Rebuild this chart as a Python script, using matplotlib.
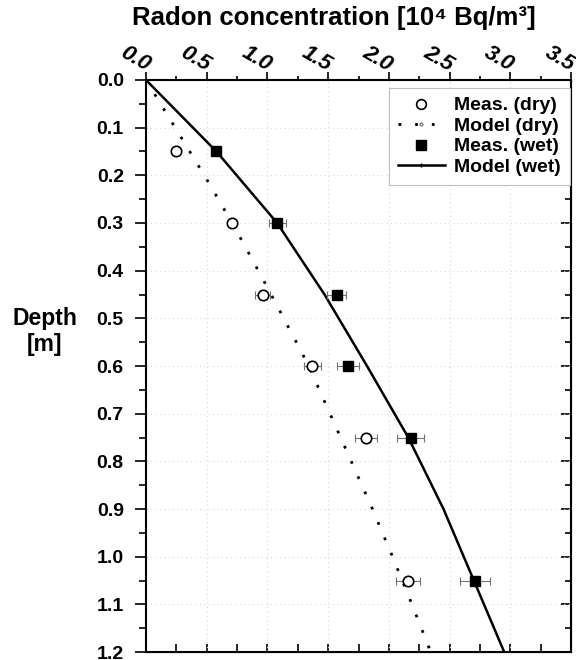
import matplotlib
matplotlib.use("Agg")
import matplotlib.pyplot as plt
from matplotlib.lines import Line2D
from matplotlib.ticker import MultipleLocator

plt.rcParams['font.family'] = ['Liberation Sans', 'DejaVu Sans']
plt.rcParams['font.weight'] = 'bold'

# measured points
depth_meas = [0.15, 0.30, 0.45, 0.60, 0.75, 1.05]
dry_meas = [0.25, 0.71, 0.96, 1.37, 1.81, 2.16]
dry_err = [0.0, 0.03, 0.06, 0.07, 0.09, 0.10]
wet_meas = [0.58, 1.08, 1.57, 1.66, 2.18, 2.71]
wet_err = [0.0, 0.07, 0.08, 0.09, 0.11, 0.12]

# model curves
depth_dry_model = [0.0, 0.1, 0.2, 0.3, 0.4, 0.5, 0.6, 0.7, 0.8, 0.9, 1.0, 1.1, 1.2]
dry_model = [0.0, 0.24, 0.48, 0.71, 0.925, 1.135, 1.34, 1.515, 1.69, 1.865, 2.03, 2.19, 2.345]
depth_wet_model = [0.0, 0.15, 0.30, 0.45, 0.60, 0.75, 0.90, 1.05, 1.20]
wet_model = [0.0, 0.58, 1.08, 1.47, 1.82, 2.16, 2.45, 2.70, 2.95]

x_ticks = [0.0, 0.5, 1.0, 1.5, 2.0, 2.5, 3.0, 3.5]

fig = plt.figure(figsize=(5.76, 6.6), dpi=100)
ax = fig.add_axes([0.2535, 0.0121, 0.7378, 0.8667])

ax.plot(dry_model, depth_dry_model, color='black', lw=2, linestyle=(0, (1, 5)))
ax.plot(wet_model, depth_wet_model, color='black', lw=1.8)

ax.errorbar(dry_meas, depth_meas, xerr=dry_err, fmt='none', ecolor='0.45',
            elinewidth=0.8, capsize=3, capthick=0.8)
ax.errorbar(wet_meas, depth_meas, xerr=wet_err, fmt='none', ecolor='0.45',
            elinewidth=0.8, capsize=3, capthick=0.8)
ax.plot(dry_meas, depth_meas, 'o', mfc='white', mec='black', mew=1.2, ms=7.5)
ax.plot(wet_meas, depth_meas, 's', color='black', ms=7.5)

ax.set_xlim(0, 3.5)
ax.set_ylim(1.2, 0)

ax.grid(True, which='major', color='0.85', lw=0.8, linestyle=(0, (1, 3)))

# top axis: ticks out, slanted italic labels drawn by hand
ax.xaxis.tick_top()
ax.set_xticks(x_ticks)
ax.xaxis.set_minor_locator(MultipleLocator(0.25))
ax.tick_params(axis='x', which='major', direction='out', length=6, width=1.2,
               labeltop=False)
ax.tick_params(axis='x', which='minor', direction='out', length=3, width=1.2)
for v in x_ticks:
    ax.annotate(f'{v:.1f}', xy=(v, 1.0), xycoords=('data', 'axes fraction'),
                xytext=(-8, 15), textcoords='offset points', rotation=-30,
                ha='center', va='center', fontsize=16, style='italic',
                fontweight='bold', annotation_clip=False)
fig.text(334 / 576, 1 - 18 / 660, 'Radon concentration [10\u2074 Bq/m\u00b3]',
         fontsize=18.5, fontweight='bold', ha='center', va='center')

ax.yaxis.set_major_locator(MultipleLocator(0.1))
ax.yaxis.set_minor_locator(MultipleLocator(0.05))
ax.yaxis.set_major_formatter(lambda v, p: f'{v:.1f}')
ax.tick_params(axis='y', which='major', direction='out', length=8, width=1.2,
               labelsize=14, pad=8)
ax.tick_params(axis='y', which='minor', direction='out', length=5, width=1.2)
ax.set_ylabel('Depth\n[m]', rotation=0, fontsize=16.5, fontweight='bold',
              va='center', ha='center')
ax.yaxis.set_label_coords(-0.238, 0.56)

# bottom ticks pointing in
bx = ax.secondary_xaxis('bottom')
bx.xaxis.set_major_locator(MultipleLocator(0.25))
bx.tick_params(direction='in', length=6, width=1.2, labelbottom=False)

# right ticks pointing in
ry = ax.secondary_yaxis('right')
ry.yaxis.set_major_locator(MultipleLocator(0.1))
ry.yaxis.set_minor_locator(MultipleLocator(0.05))
ry.tick_params(which='major', direction='in', length=7, width=1.2, labelright=False)
ry.tick_params(which='minor', direction='in', length=4, width=1.2)

for sp in ax.spines.values():
    sp.set_linewidth(1.5)

handles = [
    Line2D([], [], marker='o', ls='none', mfc='white', mec='black', mew=1.2, ms=7),
    Line2D([], [], color='black', lw=2, ls=(0, (1, 5)), marker='o', ms=2,
           mfc='white', mec='0.5', markevery=[1]),
    Line2D([], [], marker='s', ls='none', color='black', ms=7),
    Line2D([], [], color='black', lw=1.8, marker='|', ms=3, markevery=[1]),
]
labels = ['Meas. (dry)', 'Model (dry)', 'Meas. (wet)', 'Model (wet)']
for h in handles[1::2]:
    h.set_data([0, 0.5, 1], [0, 0, 0])
leg = ax.legend(handles, labels, loc='upper right',
                bbox_to_anchor=(1 - 1 / 425, 1 - 8 / 572),
                fontsize=14, fancybox=False, edgecolor='0.75', framealpha=1,
                handlelength=2.4, borderaxespad=0, labelspacing=0.15,
                handletextpad=0.5, borderpad=0.45)
leg.get_frame().set_linewidth(0.8)

fig.savefig('out.png', dpi=100)
